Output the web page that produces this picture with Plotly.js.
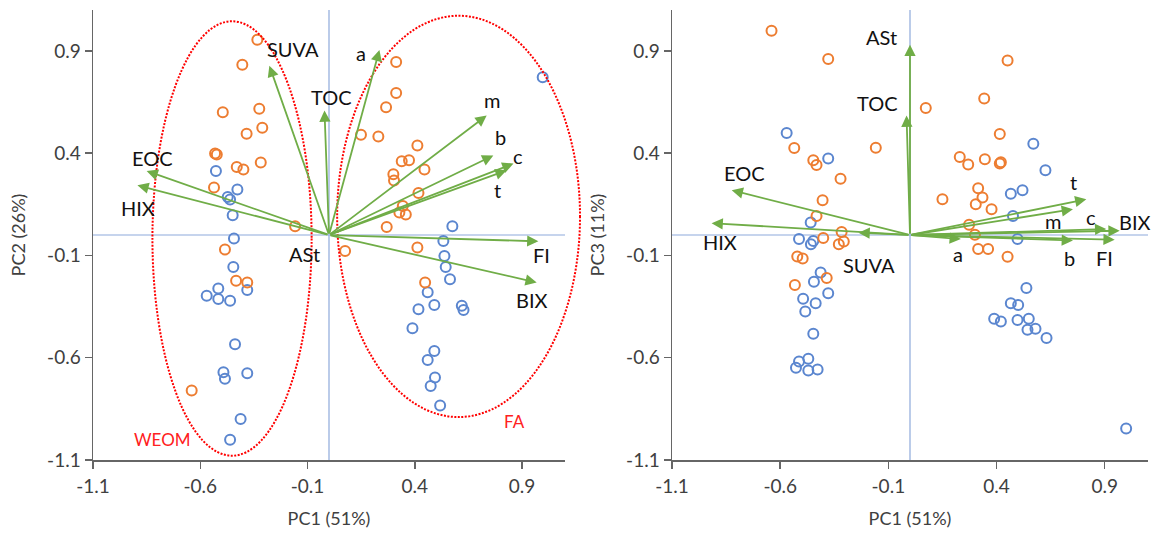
<!DOCTYPE html>
<html>
<head>
<meta charset="utf-8">
<script src="https://cdn.plot.ly/plotly-3.0.1.min.js"></script>
<style>
html,body{margin:0;padding:0;background:#fff;}
#chart{width:1153px;height:533px;}
</style>
</head>
<body>
<div id="chart"></div>
<script>
// ---------- DATA ----------
const tickVals = [-1.1, -0.6, -0.1, 0.4, 0.9];
const tickText = ['-1.1', '-0.6', '-0.1', '0.4', '0.9'];
const axisTitleX = 'PC1 (51%)';
const axisTitleY1 = 'PC2 (26%)';
const axisTitleY2 = 'PC3 (11%)';
const groupNames = ['WEOM', 'FA'];

// Left panel: PC1 vs PC2 sample scores
const orangePC1a = [-0.334,-0.404,-0.495,-0.325,-0.311,-0.384,-0.531,-0.523,-0.430,-0.399,-0.318,-0.536,-0.158,-0.485,-0.433,-0.381,-0.640,
  0.313,0.313,0.266,0.149,0.230,0.412,0.339,0.373,0.445,0.300,0.303,0.417,0.344,0.328,0.358,0.269,0.075,0.412,0.448];
const orangePC2 = [0.954,0.832,0.600,0.617,0.524,0.495,0.398,0.394,0.332,0.320,0.355,0.232,0.043,-0.071,-0.224,-0.232,-0.760,
  0.846,0.694,0.625,0.490,0.482,0.438,0.361,0.365,0.320,0.297,0.267,0.205,0.142,0.110,0.100,0.039,-0.078,-0.061,-0.232];
const bluePC1a = [-0.527,-0.427,-0.472,-0.461,-0.449,-0.443,-0.446,-0.516,-0.570,-0.516,-0.461,-0.381,-0.438,-0.492,-0.485,-0.381,-0.412,-0.461,
  0.996,0.575,0.533,0.538,0.544,0.564,0.460,0.491,0.417,0.619,0.627,0.389,0.491,0.460,0.494,0.474,0.518];
const bluePC2 = [0.313,0.222,0.186,0.173,0.097,-0.017,-0.156,-0.261,-0.297,-0.313,-0.321,-0.269,-0.534,-0.671,-0.703,-0.676,-0.899,-1.001,
  0.771,0.043,-0.029,-0.103,-0.156,-0.216,-0.280,-0.342,-0.363,-0.346,-0.367,-0.456,-0.567,-0.611,-0.697,-0.738,-0.834];

// Right panel: PC1 vs PC3 sample scores
const orangePC1b = [-0.640,-0.378,-0.535,-0.447,-0.432,-0.321,-0.404,-0.432,-0.316,-0.401,-0.329,-0.306,-0.521,-0.496,-0.158,-0.385,-0.532,
  0.451,0.343,0.073,0.415,0.230,0.269,0.346,0.415,0.420,0.150,0.315,0.335,0.304,0.377,0.273,0.300,0.315,0.361,0.451];
const orangePC3 = [0.998,0.860,0.425,0.365,0.342,0.275,0.170,0.093,0.015,-0.015,-0.045,-0.032,-0.105,-0.115,0.426,-0.210,-0.244,
  0.853,0.667,0.621,0.494,0.381,0.345,0.370,0.350,0.356,0.175,0.228,0.183,0.150,0.126,0.050,0.001,-0.069,-0.069,-0.106];
const bluePC1b = [-0.570,-0.378,-0.459,-0.513,-0.458,-0.447,-0.413,-0.444,-0.378,-0.494,-0.436,-0.484,-0.447,-0.470,-0.513,-0.527,-0.470,-0.427,
  0.570,0.626,0.466,0.520,0.476,0.497,0.538,0.466,0.500,0.389,0.420,0.497,0.549,0.543,0.580,0.631,0.999];
const bluePC3 = [0.499,0.374,0.061,-0.020,-0.045,-0.029,-0.183,-0.228,-0.285,-0.312,-0.334,-0.374,-0.483,-0.605,-0.618,-0.649,-0.662,-0.657,
  0.446,0.316,0.202,0.219,0.093,-0.020,-0.259,-0.334,-0.342,-0.410,-0.423,-0.415,-0.410,-0.463,-0.458,-0.504,-0.946];

// Variable loadings
const varNames = ['SUVA','a','TOC','m','b','c','t','FI','BIX','EOC','HIX','ASt'];
const loadPC1a = [-0.278,0.235,-0.021,0.735,0.766,0.860,0.828,0.976,0.968,-0.850,-0.893,0.000];
const loadPC2  = [0.828,0.905,0.609,0.584,0.389,0.349,0.316,-0.031,-0.232,0.313,0.243,0.000];
const loadPC1b = [-0.238,0.235,-0.016,0.753,0.753,0.907,0.815,0.946,0.969,-0.824,-0.917,0.000];
const loadPC3  = [0.011,-0.020,0.584,0.126,-0.027,0.029,0.175,-0.023,0.021,0.219,0.058,0.930];

// ---------- STYLE ----------
const FONT = 'Lato, "Open Sans", sans-serif';
const ORANGE = '#ED7D31', BLUE = '#5B86CF', GREEN = '#70AD47', ZERO = '#8EA9DB';
const AXIS_RANGE = [-1.1, 1.1];

// label pixel offsets from arrow tips (style only)
const labelShiftA = {SUVA:[24,17],a:[-18,-3],TOC:[7,13],m:[5,16],b:[7,18],c:[4,8],t:[-9,-20],FI:[3,-14],BIX:[-5,-18],EOC:[6,13],HIX:[1,-23],ASt:[-25,-19]};
const labelShiftB = {SUVA:[10,-32],a:[-3,-15],TOC:[-29,13],m:[-20,-12],b:[-3,-17],c:[-15,12],t:[-13,17],FI:[-10,-18],BIX:[15,9],EOC:[13,17],HIX:[8,-19],ASt:[-29,8]};

// ellipse outlines (center, semi-axes, in data units of left panel)
const ellipses = [
  {cx:-0.452, cy:-0.017, rx:0.371, ry:1.062, label:0, lx:-0.778, ly:-1.0},
  {cx:0.604, cy:0.091, rx:0.566, ry:0.981, label:1, lx:0.865, ly:-0.91}
];

function markerTrace(x, y, color, xa, ya) {
  return {type:'scatter', mode:'markers', x:x, y:y, xaxis:xa, yaxis:ya, showlegend:false, hoverinfo:'skip',
    marker:{symbol:'circle-open', size:10, color:color, line:{width:2, color:color}}};
}

const traces = [
  markerTrace(bluePC1a, bluePC2, BLUE, 'x', 'y'),
  markerTrace(orangePC1a, orangePC2, ORANGE, 'x', 'y'),
  markerTrace(bluePC1b, bluePC3, BLUE, 'x2', 'y2'),
  markerTrace(orangePC1b, orangePC3, ORANGE, 'x2', 'y2')
];

const annotations = [];
function addLoadings(lx, ly, xr, yr, shifts) {
  varNames.forEach((n, i) => {
    const len = Math.hypot(lx[i], ly[i]);
    if (len > 0.05) {
      annotations.push({x:lx[i], y:ly[i], ax:0, ay:0, xref:xr, yref:yr, axref:xr, ayref:yr,
        text:'', showarrow:true, arrowhead:2, arrowsize:1.25, arrowwidth:1.8, arrowcolor:GREEN, standoff:0, startstandoff:0});
    }
    annotations.push({x:lx[i], y:ly[i], xref:xr, yref:yr, text:n, showarrow:false,
      xshift:shifts[n][0], yshift:shifts[n][1], font:{family:FONT, size:20, color:'#111'}});
  });
}
addLoadings(loadPC1a, loadPC2, 'x', 'y', labelShiftA);
addLoadings(loadPC1b, loadPC3, 'x2', 'y2', labelShiftB);

const toDom = v => (v - AXIS_RANGE[0]) / (AXIS_RANGE[1] - AXIS_RANGE[0]);
const shapes = [];
// origin reference lines in both panels
[['x','y'],['x2','y2']].forEach(([xr, yr]) => {
  shapes.push({type:'line', xref:xr, yref:yr, x0:AXIS_RANGE[0], x1:AXIS_RANGE[1], y0:0, y1:0,
    line:{color:ZERO, width:1.2}, layer:'below'});
  shapes.push({type:'line', xref:xr, yref:yr, x0:0, x1:0, y0:AXIS_RANGE[0], y1:AXIS_RANGE[1],
    line:{color:ZERO, width:1.2}, layer:'below'});
});
ellipses.forEach(e => {
  shapes.push({type:'circle', xref:'x domain', yref:'y domain',
    x0:toDom(e.cx - e.rx), x1:toDom(e.cx + e.rx), y0:toDom(e.cy - e.ry), y1:toDom(e.cy + e.ry),
    line:{color:'#FF0000', width:2, dash:'2px,1.5px'}, fillcolor:'rgba(0,0,0,0)', layer:'above'});
  annotations.push({x:e.lx, y:e.ly, xref:'x', yref:'y', text:groupNames[e.label], showarrow:false,
    font:{family:FONT, size:17, color:'#FF2020'}});
});

function axisStyle(extra) {
  return Object.assign({
    range:AXIS_RANGE, tickmode:'array', tickvals:tickVals, ticktext:tickText,
    showgrid:false, zeroline:false,
    showline:true, linecolor:'#666', linewidth:1.5, ticks:'outside', ticklen:7, tickwidth:1.5, tickcolor:'#666',
    tickfont:{family:FONT, size:19, color:'#404040'}, fixedrange:true, automargin:false
  }, extra);
}

const W = 1153, H = 533;
const mL = 93, mR = 5, mT = 10, mB = 73;
const pw = W - mL - mR;
const titleFont = {family:FONT, size:18, color:'#404040'};

const layout = {
  width:W, height:H, margin:{l:mL, r:mR, t:mT, b:mB},
  paper_bgcolor:'#fff', plot_bgcolor:'#fff', showlegend:false,
  xaxis: axisStyle({domain:[0, (565 - mL)/pw], anchor:'y', ticklabelstandoff:2,
    title:{text:axisTitleX, standoff:16, font:titleFont}}),
  yaxis: axisStyle({domain:[0,1], anchor:'x',
    title:{text:axisTitleY1, standoff:17, font:titleFont}}),
  xaxis2: axisStyle({domain:[(672 - mL)/pw, 1], anchor:'y2', ticklabelstandoff:2,
    title:{text:axisTitleX, standoff:16, font:titleFont}}),
  yaxis2: axisStyle({domain:[0,1], anchor:'x2',
    title:{text:axisTitleY2, standoff:17, font:titleFont}}),
  shapes:shapes, annotations:annotations
};

Plotly.newPlot('chart', traces, layout, {displayModeBar:false, staticPlot:true});
</script>
</body>
</html>
